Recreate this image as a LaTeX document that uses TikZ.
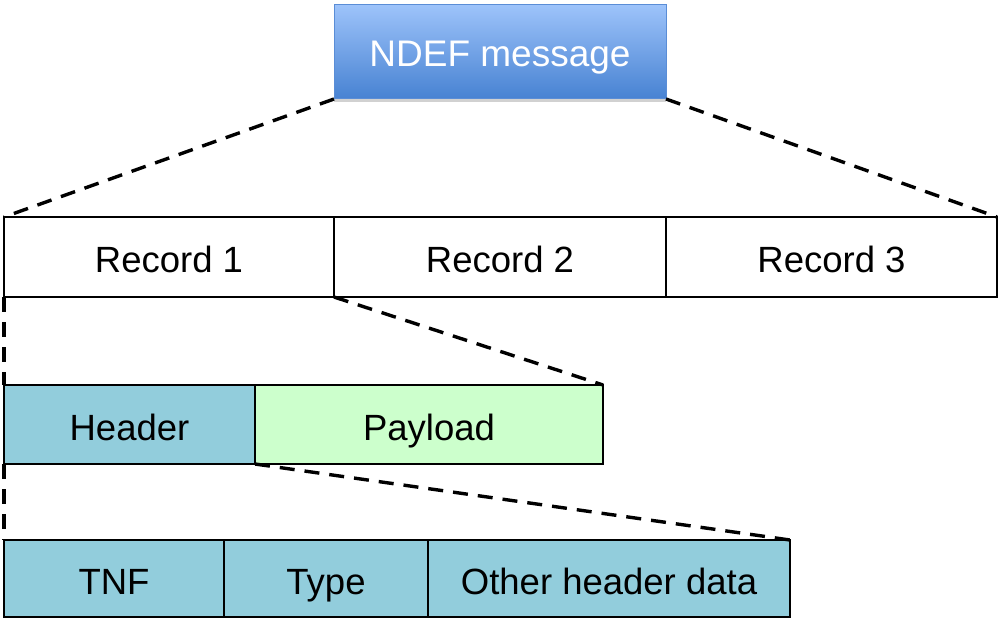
\documentclass[tikz,border=0pt]{standalone}
\usepackage{fontspec}
\setmainfont{Liberation Sans}
\usetikzlibrary{shadows}
\definecolor{hdrblue}{HTML}{92CDDC}
\definecolor{paygreen}{HTML}{CCFFCC}
\definecolor{ndeftop}{HTML}{9DC3FA}
\definecolor{ndefbot}{HTML}{4782D2}
\definecolor{ndefline}{HTML}{5A8DD6}
\begin{document}
\begin{tikzpicture}[x=1pt,y=-1pt,
  cell/.style={draw=black, line width=1.3pt, inner sep=0pt, outer sep=0pt, anchor=north west,
    text height=31pt, text depth=0pt,
    font=\fontsize{36.5}{40}\selectfont},
  ndefbox/.style={draw=ndefline, line width=1pt, top color=ndeftop, bottom color=ndefbot,
    text=white, inner sep=0pt, outer sep=0pt, anchor=north west,
    text height=30pt, text depth=0pt,
    font=\fontsize{37}{40}\selectfont,
    drop shadow={shadow xshift=0pt, shadow yshift=-3pt, opacity=0.3, fill=black!60}},
  zoomline/.style={draw=black, line width=3.4pt, dash pattern=on 15pt off 10pt}
]
\useasboundingbox (0,0) rectangle (1000,620);
\node[ndefbox, minimum width=332, minimum height=94] (ndef) at (334,5) {NDEF message};

\node[cell, minimum width=330, minimum height=80] (r1) at (4,217) {Record 1};
\node[cell, minimum width=332, minimum height=80] (r2) at (334,217) {Record 2};
\node[cell, minimum width=331, minimum height=80] (r3) at (666,217) {Record 3};

\node[cell, fill=hdrblue, minimum width=251, minimum height=79] (hdr) at (4,385) {Header};
\node[cell, fill=paygreen, minimum width=348, minimum height=79] (pay) at (255,385) {Payload};

\node[cell, fill=hdrblue, minimum width=220, minimum height=77] (tnf) at (4,540) {TNF};
\node[cell, fill=hdrblue, minimum width=204, minimum height=77] (type) at (224,540) {Type};
\node[cell, fill=hdrblue, minimum width=362, minimum height=77] (other) at (428,540) {Other header data};

\draw[zoomline] (ndef.south west) -- (r1.north west);
\draw[zoomline] (ndef.south east) -- (r3.north east);
\draw[zoomline] (r1.south west) -- (hdr.north west);
\draw[zoomline] (r1.south east) -- (pay.north east);
\draw[zoomline] (hdr.south west) -- (tnf.north west);
\draw[zoomline] (hdr.south east) -- (other.north east);
\end{tikzpicture}
\end{document}
